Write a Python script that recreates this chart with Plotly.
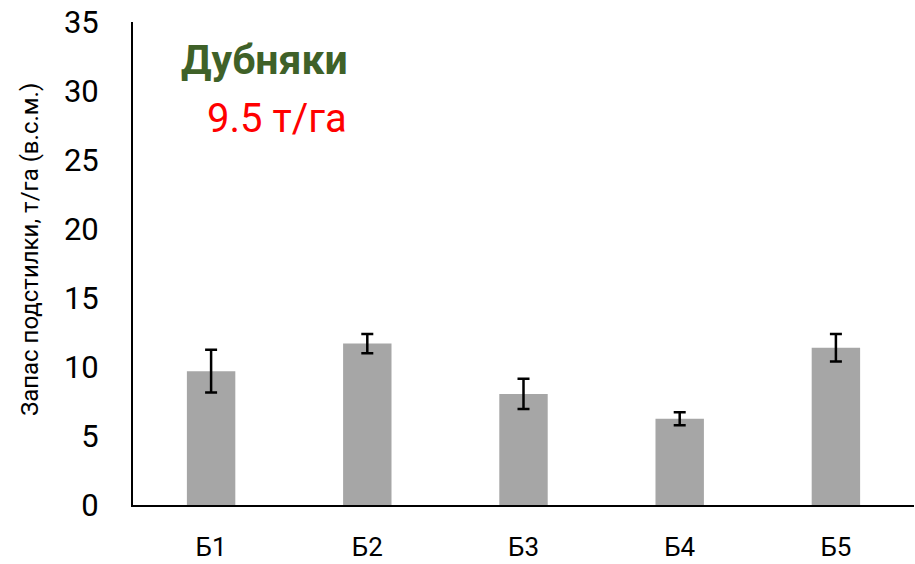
import plotly.graph_objects as go

categories = ["Б1", "Б2", "Б3", "Б4", "Б5"]
values = [9.7, 11.7, 8.05, 6.25, 11.4]
errors = [1.55, 0.7, 1.1, 0.48, 1.0]
y_ticks = [0, 5, 10, 15, 20, 25, 30, 35]

FONT = "Roboto"

fig = go.Figure()
fig.add_trace(go.Bar(
    x=categories, y=values,
    marker=dict(color="#A6A6A6", line=dict(width=0)),
    width=0.31,
    error_y=dict(type="data", array=errors, visible=True,
                 color="black", thickness=2.5, width=6),
))

fig.update_layout(
    width=915, height=564,
    margin=dict(l=133, r=1, t=22, b=59),
    paper_bgcolor="white", plot_bgcolor="white",
    showlegend=False,
    font=dict(family=FONT, color="black"),
    xaxis=dict(showline=True, linecolor="black", linewidth=2, automargin=False,
               showgrid=False, ticks="", tickfont=dict(size=26),
               ticklabelstandoff=18),
    yaxis=dict(range=[0, 35], tickvals=y_ticks, showline=True, automargin=False,
               linecolor="black", linewidth=2, showgrid=False,
               zeroline=False, ticks="", tickfont=dict(size=31),
               ticklabelstandoff=26, ticklabeloverflow="allow"),
    annotations=[
        dict(text="Запас подстилки, т/га (в.с.м.)", x=-0.1317, y=0.528,
             xref="paper", yref="paper", textangle=-90, showarrow=False,
             xanchor="center", yanchor="middle",
             font=dict(size=24, color="black")),
        dict(text="<b>Дубняки</b>", x=0.168, y=0.921, xref="paper", yref="paper",
             xanchor="center", yanchor="middle",
             showarrow=False, font=dict(size=41, color="#3F6128")),
        dict(text="9.5 т/га", x=0.185, y=0.801, xref="paper", yref="paper",
             xanchor="center", yanchor="middle",
             showarrow=False, font=dict(size=40, color="#FF0000")),
    ],
)

fig.write_html("out.html",
               config={"displayModeBar": False},
               post_script="document.body.style.margin='0';")
